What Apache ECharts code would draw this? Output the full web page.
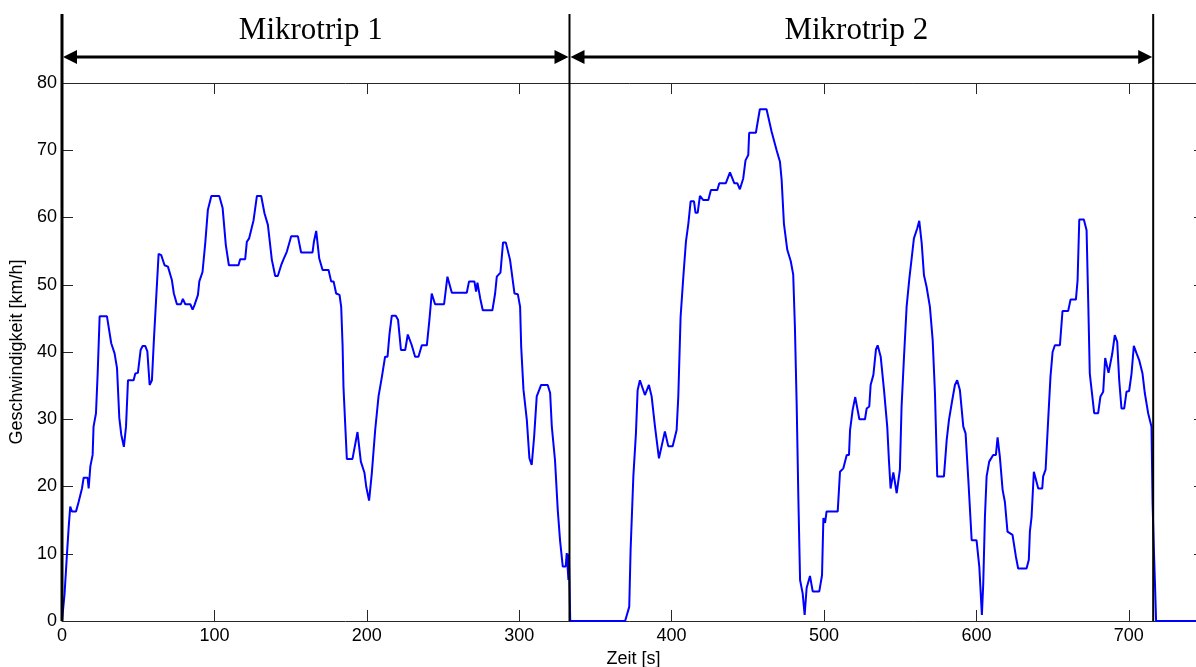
<!DOCTYPE html>
<html>
<head>
<meta charset="utf-8">
<script src="https://cdn.jsdelivr.net/npm/echarts@6/dist/echarts.min.js"></script>
<style>
  html, body { margin: 0; padding: 0; background: #fff; }
  #chart { width: 1196px; height: 667px; }
</style>
</head>
<body>
<div id="chart"></div>
<script>
// Speed trace of the drive cycle: time [s] and speed [km/h]
const timeS = [
  0, 1.7, 3.3, 4.4, 5.4, 6.5, 9.2, 10.9, 13.1, 14.2, 16.8, 17.5, 18.6, 20.1, 20.7, 22.3, 23.4, 24.7, 29.5, 32.3,
  34.5, 36.1, 37.6, 38.9, 40.6, 42.0, 43.3, 47.0, 48.1, 49.8, 51.6, 52.9, 54.6, 56.0, 57.5, 59.0, 60.3, 61.6, 63.4, 65.1,
  67.3, 69.5, 72.1, 73.4, 75.4, 78.0, 79.3, 80.9, 84.2, 85.7, 87.0, 89.2, 90.1, 92.2, 94.0, 95.7, 98.0, 103.2, 105.4, 107.5,
  109.5, 115.8, 116.9, 120.2, 121.3, 122.8, 125.7, 127.9, 130.7, 132.9, 135.1, 137.7, 139.9, 141.6, 143.8, 145.4, 147.5, 150.4, 154.8, 156.9,
  164.4, 165.3, 166.8, 168.8, 171.0, 174.9, 176.6, 178.2, 179.9, 182.1, 183.2, 184.1, 184.7, 185.8, 186.9, 190.6, 193.9, 196.1, 198.5, 199.6,
  201.5, 203.3, 205.5, 207.7, 209.9, 212.0, 213.6, 214.9, 216.4, 219.0, 220.5, 222.4, 225.2, 226.9, 229.5, 231.7, 233.9, 236.1, 239.4, 241.1,
  242.6, 244.8, 250.7, 252.9, 255.8, 265.6, 267.1, 270.6, 271.7, 272.6, 274.4, 276.1, 282.4, 284.2, 285.3, 287.7, 289.4, 291.2, 294.0, 296.9,
  299.1, 300.6, 301.3, 302.8, 305.0, 306.7, 308.2, 309.8, 311.5, 314.4, 318.7, 320.3, 321.4, 323.5, 325.3, 326.8, 328.6, 330.5, 331.2, 331.9,
  332.3, 332.6, 333.5, 369.5, 372.2, 373.1, 374.9, 376.6, 377.7, 379.2, 382.5, 385.1, 386.9, 389.1, 391.7, 395.6, 397.8, 400.7, 403.3, 404.4,
  405.9, 407.7, 409.4, 411.0, 412.5, 414.7, 415.7, 417.1, 418.6, 420.8, 424.1, 425.8, 430.0, 431.3, 435.6, 438.3, 441.1, 443.1, 444.8, 447.0,
  448.5, 450.3, 450.9, 455.3, 457.9, 462.3, 465.6, 468.9, 471.1, 472.2, 473.7, 475.9, 478.2, 479.8, 480.9, 482.1, 483.2, 484.3, 486.0, 487.3,
  488.6, 490.8, 492.6, 496.9, 498.7, 499.6, 500.7, 501.7, 509.0, 510.5, 512.7, 514.9, 516.4, 517.1, 518.8, 520.5, 523.2, 526.9, 528.0, 529.7,
  530.6, 532.4, 534.1, 535.2, 537.2, 539.4, 541.5, 542.6, 543.7, 545.5, 547.7, 549.8, 550.9, 552.5, 554.2, 556.0, 557.5, 559.0, 561.2, 562.5,
  564.1, 565.6, 567.3, 569.5, 571.3, 572.8, 574.3, 578.7, 580.5, 582.0, 584.2, 585.9, 587.4, 589.2, 591.4, 592.9, 594.7, 596.9, 600.1, 601.9,
  603.6, 604.5, 605.6, 606.7, 608.4, 611.0, 612.8, 613.9, 615.4, 617.2, 618.7, 620.4, 623.7, 625.9, 627.4, 632.9, 634.4, 635.1, 636.2, 637.7,
  639.0, 640.6, 643.2, 643.8, 645.4, 647.1, 648.6, 650.0, 651.5, 654.8, 656.5, 660.2, 661.8, 665.3, 666.4, 667.5, 670.5, 672.3, 673.4, 674.4,
  677.3, 679.9, 681.4, 683.2, 684.5, 686.7, 688.0, 689.1, 690.8, 692.4, 693.7, 695.2, 697.0, 698.5, 700.2, 701.8, 703.3, 705.1, 706.8, 709.0,
  710.5, 712.7, 714.9, 715.6, 716.4, 717.2, 717.9, 750
];
const speedKmh = [
  0, 4.1, 10.1, 14.0, 17.0, 16.3, 16.3, 17.7, 19.7, 21.3, 21.3, 19.7, 23.0, 24.7, 28.9, 30.9, 36.8, 45.3, 45.3, 41.3,
  39.8, 37.6, 30.2, 27.7, 25.9, 28.9, 35.8, 35.8, 36.8, 36.9, 40.3, 40.9, 40.9, 40.1, 35.1, 35.8, 41.8, 47.2, 54.6, 54.4,
  52.9, 52.7, 50.7, 48.7, 47.1, 47.1, 47.9, 47.1, 47.1, 46.3, 47.0, 48.5, 50.5, 51.9, 56.2, 61.1, 63.2, 63.2, 61.4, 55.9,
  52.9, 52.9, 53.8, 53.8, 56.4, 56.9, 59.6, 63.2, 63.2, 60.6, 58.9, 53.7, 51.3, 51.3, 52.9, 53.8, 54.9, 57.2, 57.2, 54.8,
  54.8, 56.4, 58.0, 53.9, 52.2, 52.2, 50.5, 50.5, 48.7, 48.5, 46.7, 41.1, 34.8, 29.4, 24.1, 24.1, 28.1, 23.7, 22.0, 20.0,
  17.9, 22.0, 28.4, 33.4, 36.3, 39.3, 39.3, 42.7, 45.4, 45.4, 44.8, 40.3, 40.3, 42.6, 41.0, 39.3, 39.3, 41.0, 41.0, 44.8,
  48.7, 47.1, 47.1, 51.2, 48.8, 48.8, 50.5, 50.5, 49.0, 50.3, 48.0, 46.2, 46.2, 48.7, 51.2, 51.8, 56.3, 56.3, 53.7, 48.7,
  48.6, 46.7, 40.8, 34.4, 29.9, 24.2, 23.2, 27.4, 33.4, 35.1, 35.1, 33.9, 28.9, 23.9, 16.5, 12.0, 8.1, 8.1, 10.1, 10.1,
  6.1, 10.0, 0, 0, 2.1, 10.6, 21.5, 27.9, 34.3, 35.8, 33.6, 35.1, 33.4, 28.9, 24.2, 28.2, 26.0, 26.0, 28.4, 33.4,
  45.2, 51.2, 56.4, 59.1, 62.4, 62.4, 60.7, 60.7, 63.2, 62.6, 62.6, 64.1, 64.1, 65.1, 65.1, 66.7, 65.1, 65.1, 64.2, 65.8,
  68.5, 69.3, 72.6, 72.6, 76.1, 76.1, 72.8, 70.0, 68.3, 65.6, 59.1, 55.2, 53.5, 51.5, 43.8, 31.9, 18.0, 6.1, 4.1, 0.9,
  4.9, 6.7, 4.4, 4.4, 6.8, 15.3, 14.6, 16.3, 16.3, 22.2, 22.7, 24.7, 24.7, 28.4, 31.4, 33.3, 30.0, 30.0, 31.6, 31.9,
  35.1, 36.6, 40.4, 41.0, 39.3, 34.3, 28.9, 23.9, 19.7, 22.1, 19.0, 22.5, 31.9, 39.3, 46.7, 50.9, 53.9, 56.9, 58.4, 59.5,
  56.2, 51.4, 49.7, 46.7, 41.8, 33.9, 21.5, 21.5, 26.9, 29.9, 32.9, 35.1, 35.8, 34.3, 28.9, 27.9, 21.0, 12.0, 12.0, 8.1,
  0.9, 5.6, 15.5, 21.5, 23.7, 24.7, 24.7, 27.3, 24.4, 19.5, 17.7, 13.3, 12.8, 9.6, 7.8, 7.8, 9.1, 13.3, 15.5, 22.2,
  22.2, 19.7, 19.7, 21.5, 22.5, 29.9, 36.3, 40.0, 41.0, 41.0, 46.1, 46.1, 47.8, 47.8, 50.7, 59.7, 59.7, 58.1, 47.2, 36.8,
  30.9, 30.9, 33.4, 34.1, 39.1, 36.9, 36.9, 39.7, 42.5, 41.5, 35.8, 31.6, 31.6, 34.1, 34.2, 36.8, 40.9, 39.8, 38.8, 36.8,
  33.9, 30.9, 28.9, 17.5, 11.0, 5.4, 0, 0
];
// Boundaries between the micro trips [s] and their captions
const tripBounds = [0, 333, 716];
const tripLabels = ['Mikrotrip 1', 'Mikrotrip 2'];

const AXIS_COLOR = '#262626';
const TICK_FONT = { color: '#000', fontSize: 18, fontFamily: 'Liberation Sans, Arial, sans-serif' };

const chart = echarts.init(document.getElementById('chart'), null, { renderer: 'canvas' });

const boxAxis = (extra) => Object.assign({
  type: 'value',
  axisLine: { show: true, onZero: false, lineStyle: { color: AXIS_COLOR, width: 1 } },
  axisTick: { show: true, inside: true, length: 11, lineStyle: { color: AXIS_COLOR, width: 1 } },
  splitLine: { show: false }
}, extra);

chart.setOption({
  animation: false,
  backgroundColor: '#fff',
  grid: { left: 62, right: -9, top: 83, bottom: 46, containLabel: false, outerBoundsMode: 'none' },
  xAxis: [
    boxAxis({
      position: 'bottom', min: 0, max: 750, interval: 100,
      axisLabel: Object.assign({ margin: 6, showMaxLabel: false }, TICK_FONT),
      name: 'Zeit [s]', nameLocation: 'middle', nameGap: 26,
      nameTextStyle: TICK_FONT
    }),
    boxAxis({ position: 'top', min: 0, max: 750, interval: 100, axisLabel: { show: false } })
  ],
  yAxis: [
    boxAxis({
      position: 'left', min: 0, max: 80, interval: 10,
      axisLabel: Object.assign({ margin: 5 }, TICK_FONT),
      name: 'Geschwindigkeit [km/h]', nameLocation: 'middle', nameGap: 27,
      nameTextStyle: TICK_FONT
    }),
    boxAxis({ position: 'right', min: 0, max: 80, interval: 10, axisLabel: { show: false } })
  ],
  series: [{
    type: 'line',
    xAxisIndex: 0,
    yAxisIndex: 0,
    data: timeS.map((t, i) => [t, speedKmh[i]]),
    showSymbol: false,
    clip: false,
    lineStyle: { color: '#0000ff', width: 2 },
    z: 3
  }]
});

// Trip separators, span arrows and captions above the plot area
const px = (t) => chart.convertToPixel({ xAxisIndex: 0 }, t);
const py = (v) => chart.convertToPixel({ yAxisIndex: 0 }, v);
const yBottom = py(0);
const yTop = py(80);
const sepTop = yTop - 69;
const arrowY = yTop - 26;
const captionY = yTop - 52;
const headLen = 14, headHalf = 7;

const graphics = [];
tripBounds.forEach((t, i) => {
  graphics.push({
    type: 'line', z: 10,
    shape: { x1: px(t), y1: sepTop, x2: px(t), y2: yBottom },
    style: { stroke: '#000', lineWidth: i === 0 ? 3 : 2 }
  });
});
for (let i = 0; i < tripLabels.length; i++) {
  const xa = px(tripBounds[i]) + 1;
  const xb = px(tripBounds[i + 1]) - 1;
  graphics.push({
    type: 'line', z: 10,
    shape: { x1: xa + headLen - 2, y1: arrowY, x2: xb - headLen + 2, y2: arrowY },
    style: { stroke: '#000', lineWidth: 3 }
  });
  graphics.push({
    type: 'polygon', z: 10,
    shape: { points: [[xa, arrowY], [xa + headLen, arrowY - headHalf], [xa + headLen, arrowY + headHalf]] },
    style: { fill: '#000' }
  });
  graphics.push({
    type: 'polygon', z: 10,
    shape: { points: [[xb, arrowY], [xb - headLen, arrowY - headHalf], [xb - headLen, arrowY + headHalf]] },
    style: { fill: '#000' }
  });
  graphics.push({
    type: 'text', z: 10,
    x: (xa + xb) / 2 - 5, y: captionY,
    style: {
      text: tripLabels[i], fill: '#000',
      font: '31px "Liberation Serif", "DejaVu Serif", serif',
      align: 'center', verticalAlign: 'middle'
    }
  });
}
chart.setOption({ graphic: graphics });
</script>
</body>
</html>
